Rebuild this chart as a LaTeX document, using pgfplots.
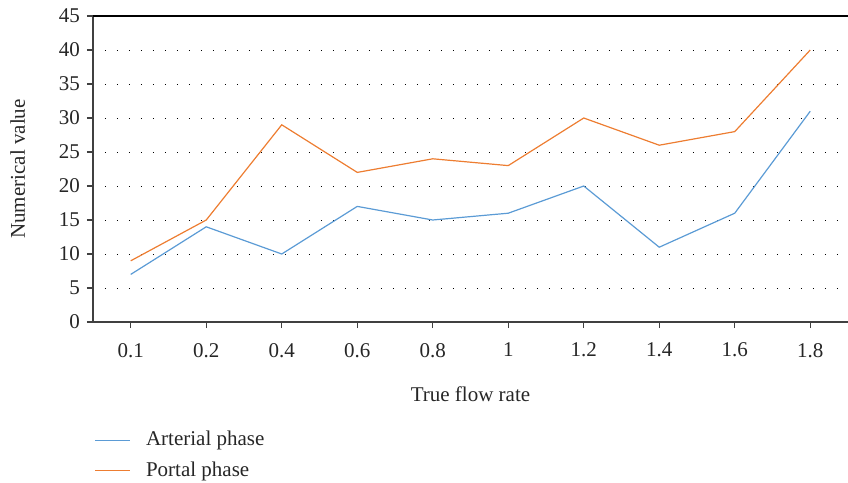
\documentclass[border=0pt]{standalone}
\usepackage{fontspec}
\setmainfont{Liberation Serif}
\usepackage{pgfplots}
\pgfplotsset{compat=1.18}
\definecolor{cblue}{RGB}{91,155,213}
\definecolor{corange}{RGB}{237,125,49}
\begin{document}
\begin{tikzpicture}
\path[use as bounding box] (-46.5pt,-80.5pt) rectangle (377.5pt,161pt);
\begin{axis}[
  at={(0,0)}, anchor=south west,
  scale only axis, width=377.5pt, height=153pt,
  xmin=-0.5, xmax=9.5, ymin=0, ymax=45,
  xtick={0,...,9},
  xticklabels={0.1,0.2,0.4,0.6,0.8,1,1.2,1.4,1.6,1.8},
  ytick={0,5,...,40},
  extra y ticks={45},
  extra y tick style={grid=major, major grid style={solid, black, line width=0.6pt}},
  axis x line*=bottom, axis y line*=left,
  axis line style={black!75, line width=0.8pt, -},
  tick style={black!75, line width=0.6pt},
  tick align=outside,
  major tick length=3pt,
  ymajorgrids,
  major grid style={black, line width=0.5pt, dash pattern=on 0.5pt off 5.5pt},
  tick label style={font=\fontsize{10.5}{12}\selectfont, text=black!85},
  /pgf/number format/assume math mode=true,
  xticklabel style={yshift=-4pt},
  label style={font=\fontsize{10.5}{12}\selectfont, text=black!85},
  xlabel={True flow rate},
  ylabel={Numerical value},
  xlabel style={at={(0.5,0)}, anchor=north, yshift=-29pt},
  ylabel style={yshift=4pt},
  legend style={at={(-0.006,-0.33)}, anchor=north west, draw=none, fill=none,
    font=\fontsize{10.5}{12}\selectfont, row sep=2.5pt, text=black!85,
    /tikz/every odd column/.append style={column sep=5.5pt}},
  legend cell align=left,
  legend image code/.code={\draw[#1] (0pt,0pt) -- (17.5pt,0pt);},
]
\addplot[cblue, line width=0.6pt] coordinates {(0,7) (1,14) (2,10) (3,17) (4,15) (5,16) (6,20) (7,11) (8,16) (9,31)};
\addlegendentry{Arterial phase}
\addplot[corange, line width=0.6pt] coordinates {(0,9) (1,15) (2,29) (3,22) (4,24) (5,23) (6,30) (7,26) (8,28) (9,40)};
\addlegendentry{Portal phase}
\end{axis}
\end{tikzpicture}
\end{document}
